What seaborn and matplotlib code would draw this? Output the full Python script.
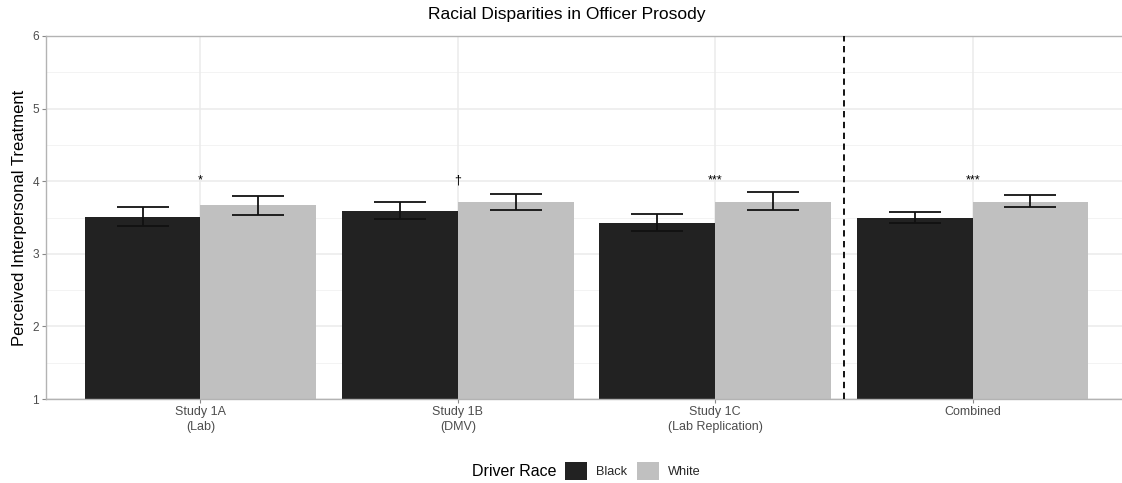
import numpy as np
import pandas as pd
import matplotlib
matplotlib.use("Agg")
import matplotlib.pyplot as plt
from matplotlib.patches import Rectangle
import seaborn as sns

# Study groups and driver race levels
studies = ["Study 1A\n(Lab)", "Study 1B\n(DMV)", "Study 1C\n(Lab Replication)", "Combined"]
races = ["Black", "White"]

# Mean perceived interpersonal treatment per study
black_mean = [3.51, 3.59, 3.43, 3.50]
white_mean = [3.67, 3.71, 3.72, 3.72]

# Error bar bounds (mean +/- SE)
black_lo = [3.38, 3.48, 3.32, 3.42]
black_hi = [3.64, 3.71, 3.55, 3.58]
white_lo = [3.54, 3.60, 3.61, 3.64]
white_hi = [3.80, 3.83, 3.85, 3.81]

# Significance markers for the Black vs White contrast
sig_labels = ["*", "\u2020", "***", "***"]
sig_y = 3.97

colors = {"Black": "#222222", "White": "#c0c0c0"}

df = pd.DataFrame({
    "study": studies * 2,
    "race": ["Black"] * 4 + ["White"] * 4,
    "mean": black_mean + white_mean,
    "lo": black_lo + white_lo,
    "hi": black_hi + white_hi,
})

sns.set_theme(style="white")
plt.rcParams["font.family"] = ["Liberation Sans", "DejaVu Sans"]

fig = plt.figure(figsize=(11.22, 4.83), dpi=100)
W, H = 1122, 483
x0, x1, y0, y1 = 46, 1127, 36, 399
ax = fig.add_axes([x0 / W, 1 - y1 / H, (x1 - x0) / W, (y1 - y0) / H])

grid_c = "#ebebeb"
# grid lines
for v in [1, 2, 3, 4, 5, 6]:
    ax.axhline(v, color=grid_c, lw=1.1, zorder=0)
for v in [1.5, 2.5, 3.5, 4.5, 5.5]:
    ax.axhline(v, color="#f3f3f3", lw=0.7, zorder=0)
for v in range(len(studies)):
    ax.axvline(v, color=grid_c, lw=1.1, zorder=0)

sns.barplot(data=df, x="study", y="mean", hue="race", order=studies,
            hue_order=races, palette=colors, width=0.9, saturation=1,
            errorbar=None, legend=False, ax=ax, zorder=2,
            edgecolor="none", linewidth=0)

# error bars at each bar centre
for cont, race in zip(ax.containers, races):
    sub = df[df.race == race].set_index("study").loc[studies]
    xs = [b.get_x() + b.get_width() / 2 for b in cont]
    m = sub["mean"].values
    yerr = np.vstack([m - sub["lo"].values, sub["hi"].values - m])
    ax.errorbar(xs, m, yerr=yerr, fmt="none", ecolor="#111111",
                elinewidth=1.3, capsize=18.5, capthick=1.3, zorder=3)

for i, lab in enumerate(sig_labels):
    ax.text(i, sig_y, lab, ha="center", va="baseline", fontsize=9,
            color="black", zorder=4)

ax.axvline(2.5, color="black", lw=1.3, ls=(0, (3.5, 2.5)), zorder=4)

ax.set_xlim(-0.6, 3.6)
ax.set_ylim(1, 6)
ax.set_yticks([1, 2, 3, 4, 5, 6])
ax.set_xlabel("")
ax.set_ylabel("Perceived Interpersonal Treatment", fontsize=12,
              color="black", labelpad=4)
ax.tick_params(axis="both", which="major", length=3, width=0.8,
               color="#888888", labelcolor="#4d4d4d", labelsize=8.6, pad=2,
               left=True, bottom=True)
ax.tick_params(axis="x", labelsize=9)
for t in ax.get_xticklabels():
    t.set_linespacing(1.3)
for s in ax.spines.values():
    s.set_color("#b3b3b3")
    s.set_linewidth(1.0)
    s.set_visible(True)

fig.text(567 / W, 1 - 14 / H, "Racial Disparities in Officer Prosody",
         ha="center", va="center", fontsize=12.5, color="black")

# legend along the bottom
fig.text(556 / W, 1 - 471 / H, "Driver Race", ha="right", va="center",
         fontsize=11.5, color="black")
handles = [Rectangle((0, 0), 1, 1, facecolor=colors[r], edgecolor="none")
           for r in races]
fig.legend(handles, races, loc="center left", bbox_to_anchor=(565 / W, 1 - 471 / H),
           ncol=2, frameon=False, fontsize=9.2, handlelength=1.72,
           handleheight=1.72, handletextpad=0.7, columnspacing=0.78,
           borderaxespad=0, borderpad=0)

fig.savefig("out.png", dpi=100)
